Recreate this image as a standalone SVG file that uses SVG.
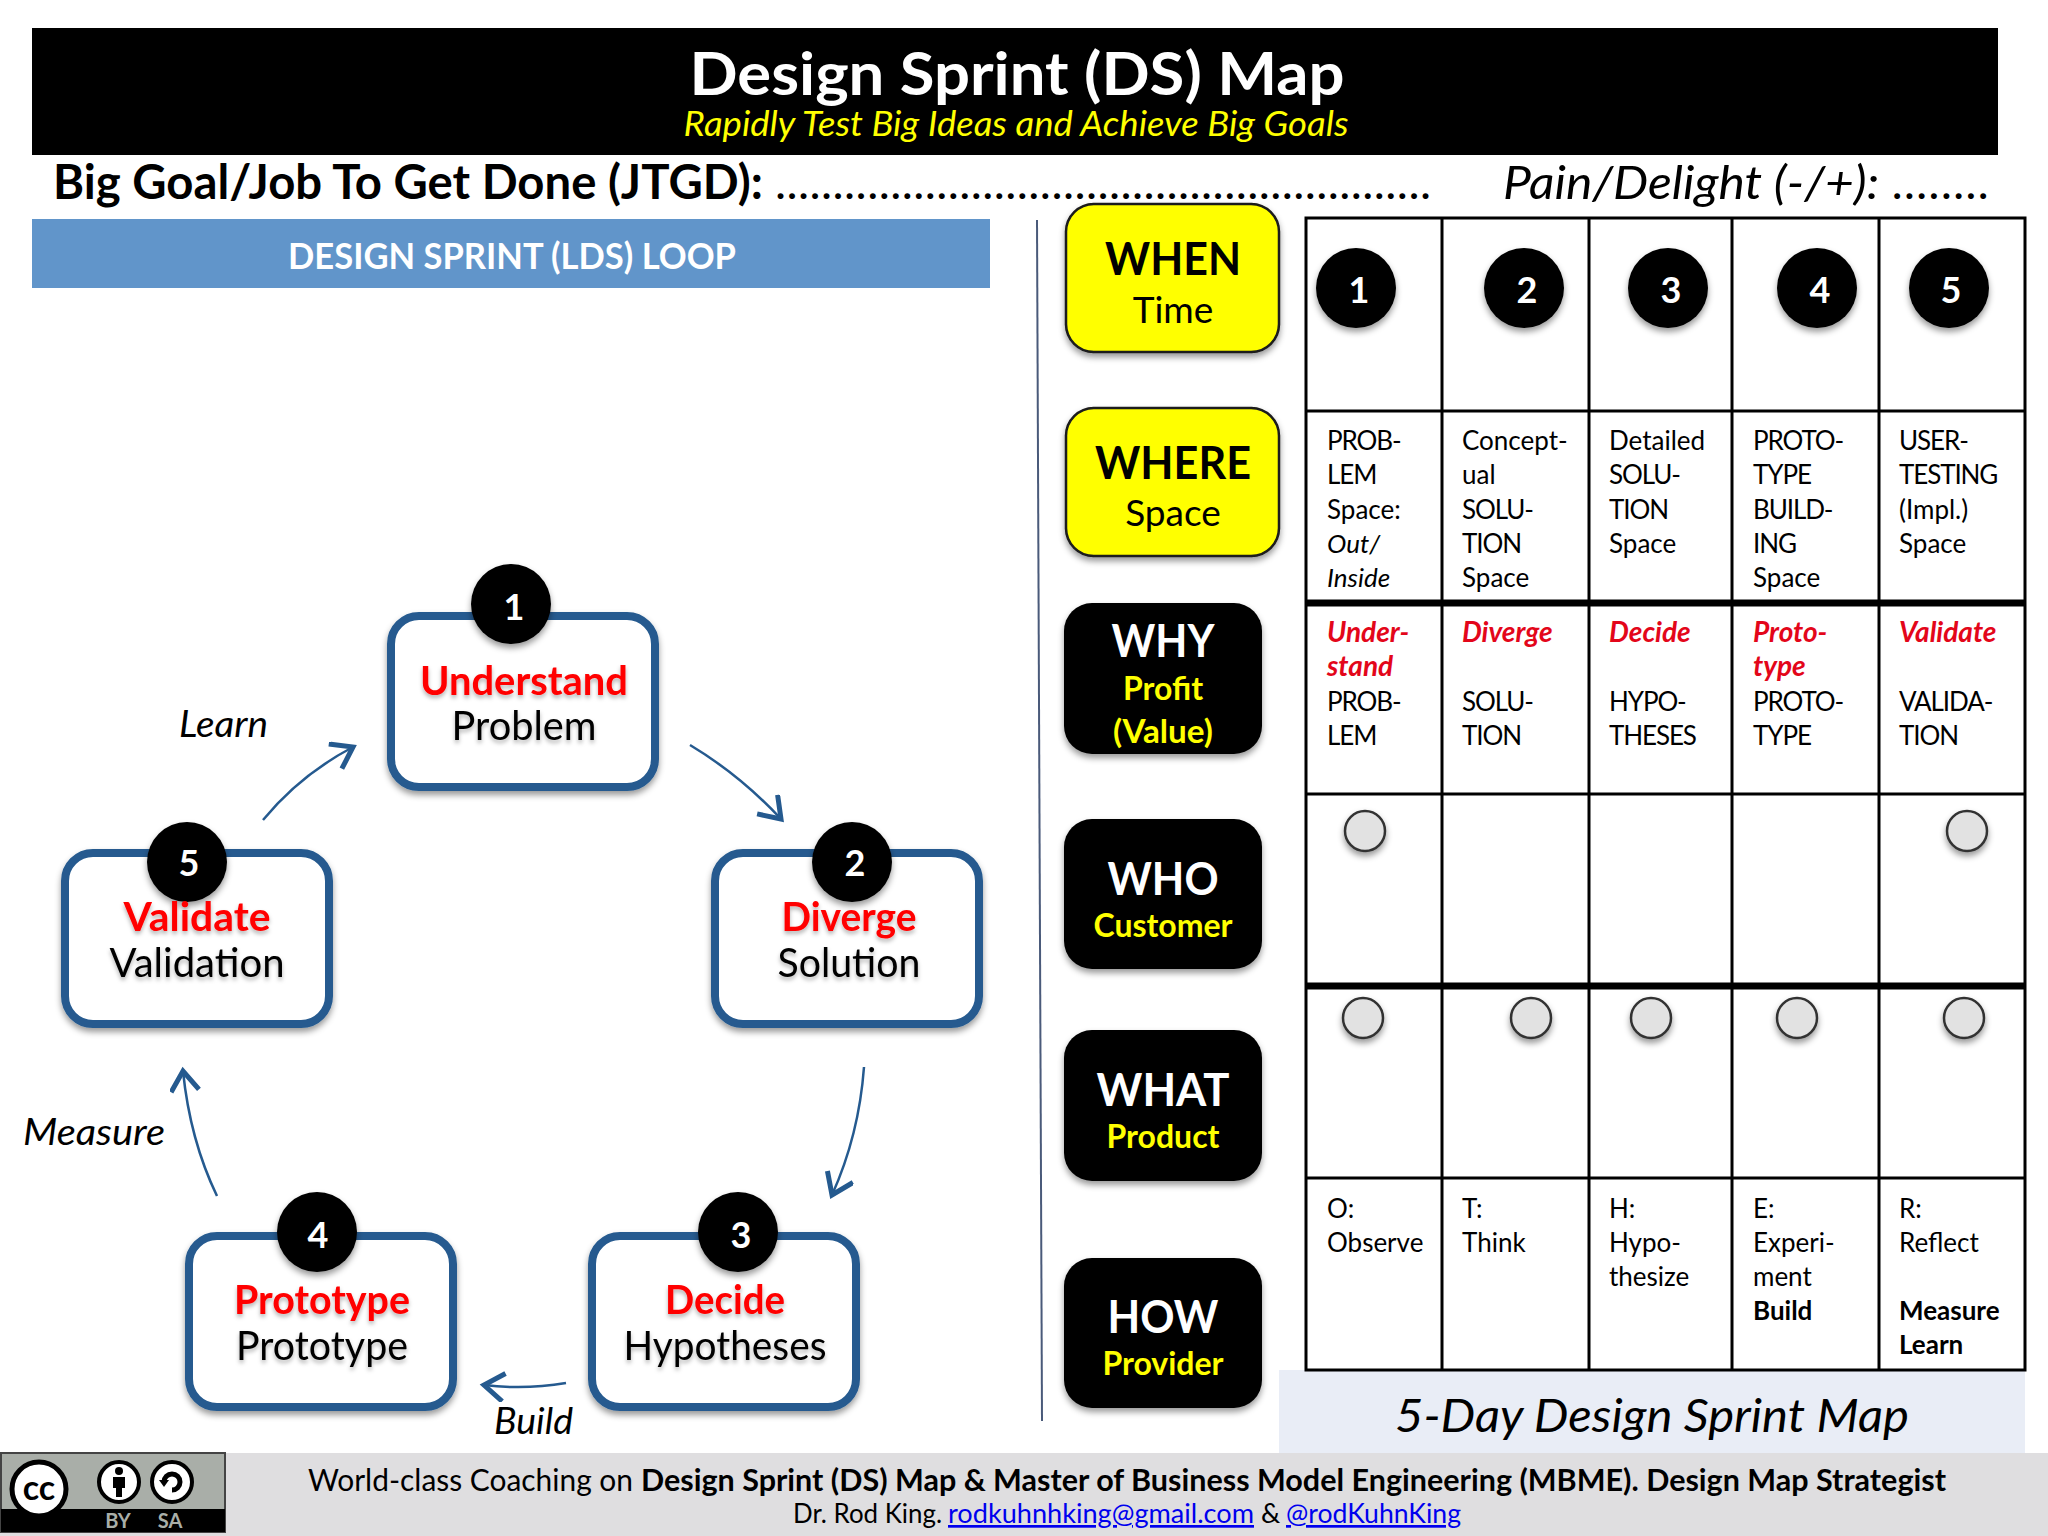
<svg xmlns="http://www.w3.org/2000/svg" width="2048" height="1536" viewBox="0 0 2048 1536">
<defs>
<style>
text{font-family:Lato,"Open Sans","Liberation Sans",sans-serif;fill:#000}
.c{text-anchor:middle}
.b{font-weight:700}
.i{font-style:italic}
.w{fill:#fff}
.y{fill:#ff0}
.big{font-size:46px;font-weight:700}
.sub{font-size:37px}
.subb{font-size:32px;font-weight:700}
.cell{font-size:26px}
.u{letter-spacing:-1.1px}
.red{font-size:28px;font-weight:700;font-style:italic;fill:#e3061a}
.num{font-size:36px;font-weight:700;fill:#fff;text-anchor:middle}
.t1{font-size:41px;font-weight:700;fill:#f00;text-anchor:middle;filter:url(#ts)}
.t2{font-size:41px;text-anchor:middle;filter:url(#ts)}
.lab{font-size:36px;font-style:italic}
.box{fill:#fff;stroke:#255a8f;stroke-width:8;filter:url(#sh)}
.blk{fill:#000;filter:url(#sh)}
.yel{fill:#ff0;stroke:#1a1a1a;stroke-width:2.5;filter:url(#sh)}
.grid{stroke:#000;stroke-width:3;fill:none}
.dot{fill:#e2e2e2;stroke:#333;stroke-width:2.5;filter:url(#sh)}
.con{fill:none;stroke:#255a8f;stroke-width:2.5;marker-end:url(#ah)}
.link{fill:#0000ee;text-decoration:underline}
</style>
<filter id="sh" x="-20%" y="-20%" width="140%" height="150%"><feDropShadow dx="0" dy="4" stdDeviation="3" flood-color="#000" flood-opacity="0.4"/></filter>
<filter id="ts" x="-10%" y="-20%" width="120%" height="150%"><feDropShadow dx="0" dy="3" stdDeviation="2" flood-color="#000" flood-opacity="0.3"/></filter>
<marker id="ah" markerUnits="userSpaceOnUse" markerWidth="34" markerHeight="34" refX="24" refY="15" orient="auto"><path d="M4 1 L24 15 L4 29" fill="none" stroke="#255a8f" stroke-width="5"/></marker>
</defs>
<rect width="2048" height="1536" fill="#fff"/>

<g id="header">
<rect x="32" y="28" width="1966" height="127" fill="#000"/>
<text x="1017" y="95" class="c b w" font-size="60" textLength="655" lengthAdjust="spacingAndGlyphs">Design Sprint (DS) Map</text>
<text x="1016" y="136" class="c i y" font-size="34" textLength="665" lengthAdjust="spacingAndGlyphs">Rapidly Test Big Ideas and Achieve Big Goals</text>
</g>
<g id="goal-line">
<text x="53" y="199" class="b" font-size="47" textLength="710" lengthAdjust="spacingAndGlyphs">Big Goal/Job To Get Done (JTGD):</text>
<text x="775" y="199" font-size="47" textLength="656">.........................................................</text>
<text x="1503" y="199" class="i" font-size="47" textLength="376" lengthAdjust="spacingAndGlyphs">Pain/Delight (-/+):</text>
<text x="1893" y="199" class="i" font-size="47" textLength="97">........</text>
</g>
<g id="loop-title">
<rect x="32" y="219" width="958" height="69" fill="#6195ca"/>
<text x="512" y="269" class="c b w" font-size="36" textLength="448" lengthAdjust="spacingAndGlyphs">DESIGN SPRINT (LDS) LOOP</text>
</g>
<line x1="1037" y1="220" x2="1042" y2="1421" stroke="#4a5a7a" stroke-width="2"/>

<g id="connectors">
<path class="con" d="M690 745 Q740 775 781 819"/>
<path class="con" d="M864 1067 Q859 1135 832 1195"/>
<path class="con" d="M566 1383 Q525 1390 484 1385"/>
<path class="con" d="M217 1196 Q190 1140 183 1071"/>
<path class="con" d="M263 820 Q300 775 353 747"/>
</g>
<g id="connector-labels">
<text x="179" y="737" class="lab" textLength="89" lengthAdjust="spacingAndGlyphs">Learn</text>
<text x="23" y="1145" class="lab" textLength="142" lengthAdjust="spacingAndGlyphs">Measure</text>
<text x="494" y="1434" class="lab" textLength="79" lengthAdjust="spacingAndGlyphs">Build</text>
</g>

<g id="step-1"><rect class="box" x="391" y="616" width="264" height="171" rx="28"/><circle class="blk" cx="511" cy="604" r="40"/><text class="num" x="514" y="620">1</text><text class="t1" x="524" y="695" textLength="208" lengthAdjust="spacingAndGlyphs">Understand</text><text class="t2" x="524" y="740" textLength="145" lengthAdjust="spacingAndGlyphs">Problem</text></g>
<g id="step-2"><rect class="box" x="715" y="853" width="264" height="171" rx="28"/><circle class="blk" cx="852" cy="862" r="40"/><text class="num" x="855" y="876">2</text><text class="t1" x="849" y="931" textLength="135" lengthAdjust="spacingAndGlyphs">Diverge</text><text class="t2" x="849" y="977" textLength="143" lengthAdjust="spacingAndGlyphs">Solution</text></g>
<g id="step-3"><rect class="box" x="592" y="1236" width="264" height="171" rx="28"/><circle class="blk" cx="738" cy="1232" r="40"/><text class="num" x="741" y="1248">3</text><text class="t1" x="725" y="1314" textLength="120" lengthAdjust="spacingAndGlyphs">Decide</text><text class="t2" x="725" y="1360" textLength="203" lengthAdjust="spacingAndGlyphs">Hypotheses</text></g>
<g id="step-4"><rect class="box" x="189" y="1236" width="264" height="171" rx="28"/><circle class="blk" cx="317" cy="1232" r="40"/><text class="num" x="318" y="1248">4</text><text class="t1" x="322" y="1314" textLength="176" lengthAdjust="spacingAndGlyphs">Prototype</text><text class="t2" x="322" y="1360" textLength="172" lengthAdjust="spacingAndGlyphs">Prototype</text></g>
<g id="step-5"><rect class="box" x="65" y="853" width="264" height="171" rx="28"/><circle class="blk" cx="187" cy="862" r="40"/><text class="num" x="189" y="876">5</text><text class="t1" x="197" y="931" textLength="147" lengthAdjust="spacingAndGlyphs">Validate</text><text class="t2" x="197" y="977" textLength="175" lengthAdjust="spacingAndGlyphs">Validation</text></g>

<g id="when"><rect class="yel" x="1066" y="204" width="213" height="148" rx="28"/><text class="c big" x="1173" y="275" textLength="136" lengthAdjust="spacingAndGlyphs">WHEN</text><text class="c sub" x="1173" y="323">Time</text></g>
<g id="where"><rect class="yel" x="1066" y="408" width="213" height="148" rx="28"/><text class="c big" x="1173" y="479" textLength="156" lengthAdjust="spacingAndGlyphs">WHERE</text><text class="c sub" x="1173" y="526">Space</text></g>
<g id="why"><rect class="blk" x="1064" y="603" width="198" height="151" rx="28"/><text class="c big w" x="1163" y="657" textLength="103" lengthAdjust="spacingAndGlyphs">WHY</text><text class="c subb y" x="1163" y="700">Profit</text><text class="c subb y" x="1163" y="743" textLength="100" lengthAdjust="spacingAndGlyphs">(Value)</text></g>
<g id="who"><rect class="blk" x="1064" y="819" width="198" height="150" rx="28"/><text class="c big w" x="1163" y="895" textLength="111" lengthAdjust="spacingAndGlyphs">WHO</text><text class="c subb y" x="1163" y="937">Customer</text></g>
<g id="what"><rect class="blk" x="1064" y="1030" width="198" height="151" rx="28"/><text class="c big w" x="1163" y="1106" textLength="133" lengthAdjust="spacingAndGlyphs">WHAT</text><text class="c subb y" x="1163" y="1148">Product</text></g>
<g id="how"><rect class="blk" x="1064" y="1258" width="198" height="150" rx="28"/><text class="c big w" x="1163" y="1333" textLength="111" lengthAdjust="spacingAndGlyphs">HOW</text><text class="c subb y" x="1163" y="1375">Provider</text></g>

<g id="band"><rect x="1279" y="1370" width="746" height="83" fill="#e9edf6"/><text x="1395" y="1432" class="i" font-size="46" textLength="514" lengthAdjust="spacingAndGlyphs">5-Day Design Sprint Map</text></g>

<g id="grid">
<rect class="grid" x="1306" y="218" width="719" height="1152"/>
<path class="grid" d="M1442 218V1370M1589 218V1370M1732 218V1370M1879 218V1370M1306 411H2025M1306 794H2025M1306 1178H2025"/>
<path d="M1306 603H2025M1306 986H2025" stroke="#000" stroke-width="7" fill="none"/>
</g>
<g id="grid-numbers">
<circle class="blk" cx="1356" cy="288" r="40"/><text class="num" x="1359" y="303">1</text>
<circle class="blk" cx="1524" cy="288" r="40"/><text class="num" x="1527" y="303">2</text>
<circle class="blk" cx="1668" cy="288" r="40"/><text class="num" x="1671" y="303">3</text>
<circle class="blk" cx="1817" cy="288" r="40"/><text class="num" x="1820" y="303">4</text>
<circle class="blk" cx="1949" cy="288" r="40"/><text class="num" x="1951" y="303">5</text>
</g>
<g id="where-cells">
<text class="cell u" x="1327" y="450">PROB-</text><text class="cell u" x="1327" y="484">LEM</text><text class="cell" x="1327" y="519">Space:</text><text class="cell i" x="1327" y="553">Out/</text><text class="cell i" x="1327" y="587">Inside</text>
<text class="cell" x="1462" y="450">Concept-</text><text class="cell" x="1462" y="484">ual</text><text class="cell u" x="1462" y="519">SOLU-</text><text class="cell u" x="1462" y="553">TION</text><text class="cell" x="1462" y="587">Space</text>
<text class="cell" x="1609" y="450">Detailed</text><text class="cell u" x="1609" y="484">SOLU-</text><text class="cell u" x="1609" y="519">TION</text><text class="cell" x="1609" y="553">Space</text>
<text class="cell u" x="1753" y="450">PROTO-</text><text class="cell u" x="1753" y="484">TYPE</text><text class="cell u" x="1753" y="519">BUILD-</text><text class="cell u" x="1753" y="553">ING</text><text class="cell" x="1753" y="587">Space</text>
<text class="cell u" x="1899" y="450">USER-</text><text class="cell u" x="1899" y="484">TESTING</text><text class="cell" x="1899" y="519">(Impl.)</text><text class="cell" x="1899" y="553">Space</text>
</g>
<g id="why-cells">
<text class="red" x="1327" y="642">Under-</text><text class="red" x="1327" y="676">stand</text><text class="cell u" x="1327" y="711">PROB-</text><text class="cell u" x="1327" y="745">LEM</text>
<text class="red" x="1462" y="642">Diverge</text><text class="cell u" x="1462" y="711">SOLU-</text><text class="cell u" x="1462" y="745">TION</text>
<text class="red" x="1609" y="642">Decide</text><text class="cell u" x="1609" y="711">HYPO-</text><text class="cell u" x="1609" y="745">THESES</text>
<text class="red" x="1753" y="642">Proto-</text><text class="red" x="1753" y="676">type</text><text class="cell u" x="1753" y="711">PROTO-</text><text class="cell u" x="1753" y="745">TYPE</text>
<text class="red" x="1899" y="642">Validate</text><text class="cell u" x="1899" y="711">VALIDA-</text><text class="cell u" x="1899" y="745">TION</text>
</g>
<g id="grid-dots">
<circle class="dot" cx="1365" cy="831" r="20"/><circle class="dot" cx="1967" cy="831" r="20"/>
<circle class="dot" cx="1363" cy="1018" r="20"/><circle class="dot" cx="1531" cy="1018" r="20"/><circle class="dot" cx="1651" cy="1018" r="20"/><circle class="dot" cx="1797" cy="1018" r="20"/><circle class="dot" cx="1964" cy="1018" r="20"/>
</g>
<g id="how-cells">
<text class="cell" x="1327" y="1218">O:</text><text class="cell" x="1327" y="1252">Observe</text>
<text class="cell" x="1462" y="1218">T:</text><text class="cell" x="1462" y="1252">Think</text>
<text class="cell" x="1609" y="1218">H:</text><text class="cell" x="1609" y="1252">Hypo-</text><text class="cell" x="1609" y="1286">thesize</text>
<text class="cell" x="1753" y="1218">E:</text><text class="cell" x="1753" y="1252">Experi-</text><text class="cell" x="1753" y="1286">ment</text><text class="cell b" x="1753" y="1320">Build</text>
<text class="cell" x="1899" y="1218">R:</text><text class="cell" x="1899" y="1252">Reflect</text><text class="cell b" x="1899" y="1320">Measure</text><text class="cell b" x="1899" y="1354">Learn</text>
</g>

<g id="footer">
<rect x="0" y="1453" width="2048" height="83" fill="#dfdee0"/>
<text x="308" y="1491" font-size="30" textLength="325" lengthAdjust="spacingAndGlyphs">World-class Coaching on</text>
<text x="641" y="1491" font-size="30" class="b" textLength="1305" lengthAdjust="spacingAndGlyphs">Design Sprint (DS) Map &amp; Master of Business Model Engineering (MBME). Design Map Strategist</text>
<text x="793" y="1523" font-size="27" textLength="149" lengthAdjust="spacingAndGlyphs">Dr. Rod King.</text>
<text x="948" y="1523" font-size="27" class="link" textLength="306" lengthAdjust="spacingAndGlyphs">rodkuhnhking@gmail.com</text>
<text x="1261" y="1523" font-size="27">&amp;</text>
<text x="1286" y="1523" font-size="27" class="link" textLength="175" lengthAdjust="spacingAndGlyphs">@rodKuhnKing</text>
</g>
<g id="cc-badge">
<rect x="1" y="1453" width="224" height="79" fill="#a9aea8" stroke="#444" stroke-width="2"/>
<rect x="1" y="1509" width="224" height="23" fill="#000"/>
<circle cx="39" cy="1489" r="27" fill="#fff" stroke="#000" stroke-width="5"/>
<text x="39" y="1500" class="c b" font-size="34">cc</text>
<circle cx="119" cy="1482" r="20" fill="#fff" stroke="#000" stroke-width="4"/>
<circle cx="119" cy="1471" r="4" fill="#000"/><path d="M113 1477h12v11h-3v9h-6v-9h-3z" fill="#000"/>
<circle cx="172" cy="1482" r="20" fill="#fff" stroke="#000" stroke-width="4"/>
<path d="M164 1482a8 8 0 1 1 8 8" fill="none" stroke="#000" stroke-width="5"/><path d="M159 1480h10l-5 7z" fill="#000"/>
<text x="118" y="1528" class="c b" font-size="20" style="fill:#a9aea8">BY</text>
<text x="170" y="1528" class="c b" font-size="20" style="fill:#a9aea8">SA</text>
</g>
</svg>
